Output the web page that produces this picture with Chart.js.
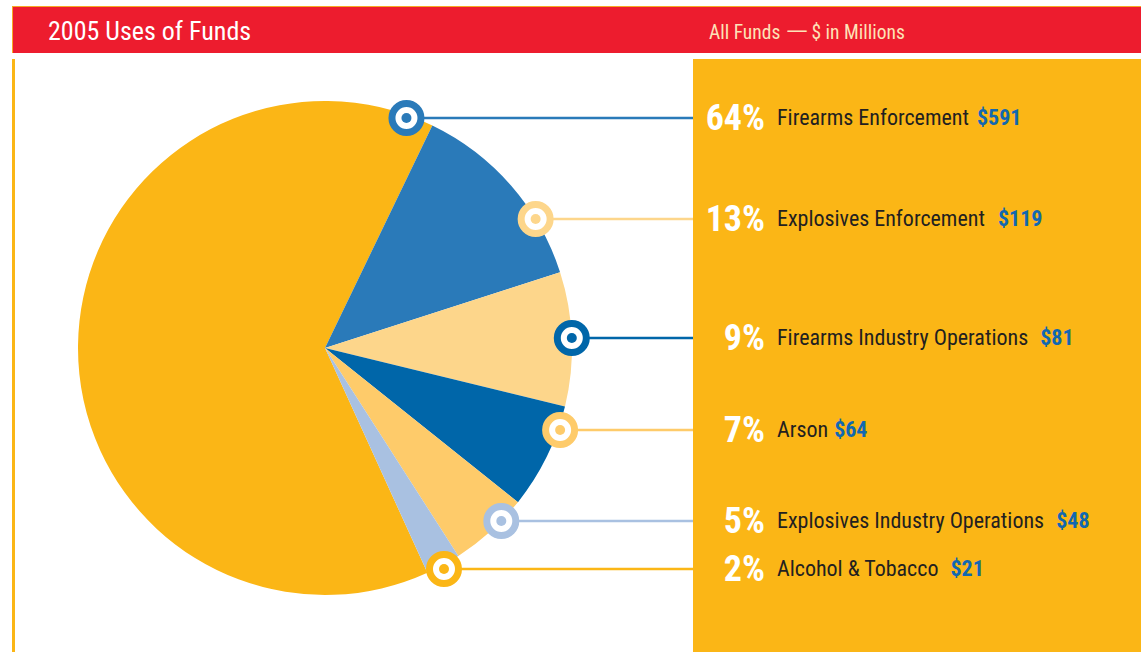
<!DOCTYPE html>
<html>
<head>
<meta charset="UTF-8">
<title>2005 Uses of Funds</title>
<script src="https://cdn.jsdelivr.net/npm/chart.js@4"></script>
<style>
  body { margin: 0; background: #fff; width: 1141px; height: 652px; overflow: hidden; position: relative;
         font-family: "Liberation Sans Narrow", "Roboto Condensed", "DejaVu Sans Condensed", "Arial Narrow", sans-serif; }
  #header { position: absolute; left: 12px; top: 6px; width: 1129px; height: 47px; background: #ED1C2E;
            border-top: 1px solid #F7A823; border-left: 1px solid #F7A823; box-sizing: border-box; }
  #title { position: absolute; left: 35px; top: 9px; color: #fff; font-size: 26px; }
  #sub { position: absolute; left: 696px; top: 14px; color: #FDE3B8; font-size: 19.5px; white-space: nowrap; }
  #sub .dash { display: inline-block; transform: scaleX(1.8); margin: 0 8px 0 10px; }
  #leftline { position: absolute; left: 12px; top: 59px; width: 3px; height: 593px; background: #FBB616; }
  #panel { position: absolute; left: 693px; top: 59px; width: 448px; height: 593px; background: #FBB616; }
  #chartBox { position: absolute; left: 0; top: 0; width: 1141px; height: 652px; }
  .row { position: absolute; left: 693px; height: 40px; line-height: 40px; white-space: nowrap; }
  .pct { display: inline-block; width: 72px; text-align: right; color: #fff; font-weight: bold; font-size: 36px; vertical-align: top; }
  .lab { display: inline-block; margin-left: 12px; color: #231F20; font-size: 22px; vertical-align: top; }
  .val { display: inline-block; color: #1268B0; font-weight: bold; font-size: 22px; vertical-align: top; }
</style>
</head>
<body>
<div id="header"><div id="title">2005 Uses of Funds</div><div id="sub">All Funds<span class="dash">&mdash;</span>$ in Millions</div></div>
<div id="leftline"></div>
<div id="panel"></div>
<div id="rows"></div>
<div id="chartBox"><canvas id="myChart"></canvas></div>

<script>
// data, $ in millions
var categories = ["Firearms Enforcement", "Explosives Enforcement", "Firearms Industry Operations",
                  "Arson", "Explosives Industry Operations", "Alcohol & Tobacco"];
var amounts = [591, 119, 81, 64, 48, 21];
var sliceColours = ["#FBB616", "#2A7AB9", "#FDD68B", "#0066A9", "#FECB6A", "#A9C1E1"];
var markerColours = ["#2A7AB9", "#FDD68B", "#0066A9", "#FECB6A", "#A9C1E1", "#FBB616"];

// layout: vertical centre of each label row, gap before the $ figure,
// how far each marker sits off the rim
var rowY = [118, 219, 338, 430, 521, 569];
var valGap = [8, 13, 12, 6, 12, 12];
var rimOffset = [-3, 0, 0, 2, 0, 4];

var total = amounts.reduce(function (a, b) { return a + b; }, 0);

var rows = document.getElementById("rows");
categories.forEach(function (c, i) {
  var d = document.createElement("div");
  d.className = "row";
  d.style.top = (rowY[i] - 20) + "px";
  var pct = Math.round(amounts[i] / total * 100);
  d.innerHTML = '<span class="pct">' + pct + '%</span><span class="lab"></span>' +
                '<span class="val" style="margin-left:' + valGap[i] + 'px">$' + amounts[i] + '</span>';
  d.querySelector(".lab").textContent = c;
  rows.appendChild(d);
});

var markers = {
  id: "markers",
  afterDatasetsDraw: function (chart) {
    var ctx = chart.ctx;
    var arcs = chart.getDatasetMeta(0).data;
    var panelX = 693;
    arcs.forEach(function (arc, i) {
      var r = arc.outerRadius + rimOffset[i];
      var dy = rowY[i] - arc.y;
      var x = arc.x + Math.sqrt(Math.max(r * r - dy * dy, 0));
      var y = rowY[i];
      ctx.save();
      ctx.strokeStyle = markerColours[i];
      ctx.lineWidth = 2.5;
      ctx.beginPath();
      ctx.moveTo(x, y);
      ctx.lineTo(panelX, y);
      ctx.stroke();
      ctx.beginPath();
      ctx.arc(x, y, 14.5, 0, Math.PI * 2);
      ctx.fillStyle = "#fff";
      ctx.fill();
      ctx.lineWidth = 7;
      ctx.stroke();
      ctx.beginPath();
      ctx.arc(x, y, 5, 0, Math.PI * 2);
      ctx.fillStyle = markerColours[i];
      ctx.fill();
      ctx.restore();
    });
  }
};

var ctx = document.getElementById("myChart").getContext("2d");
var chart = new Chart(ctx, {
  type: "pie",
  data: {
    labels: categories,
    datasets: [{
      data: amounts,
      backgroundColor: sliceColours,
      borderWidth: 0
    }]
  },
  options: {
    responsive: true,
    maintainAspectRatio: false,
    animation: false,
    rotation: 155.5,
    layout: { padding: { left: 78, top: 101, right: 569, bottom: 57 } },
    plugins: { legend: { display: false }, tooltip: { enabled: false } }
  },
  plugins: [markers]
});
</script>
</body>
</html>
